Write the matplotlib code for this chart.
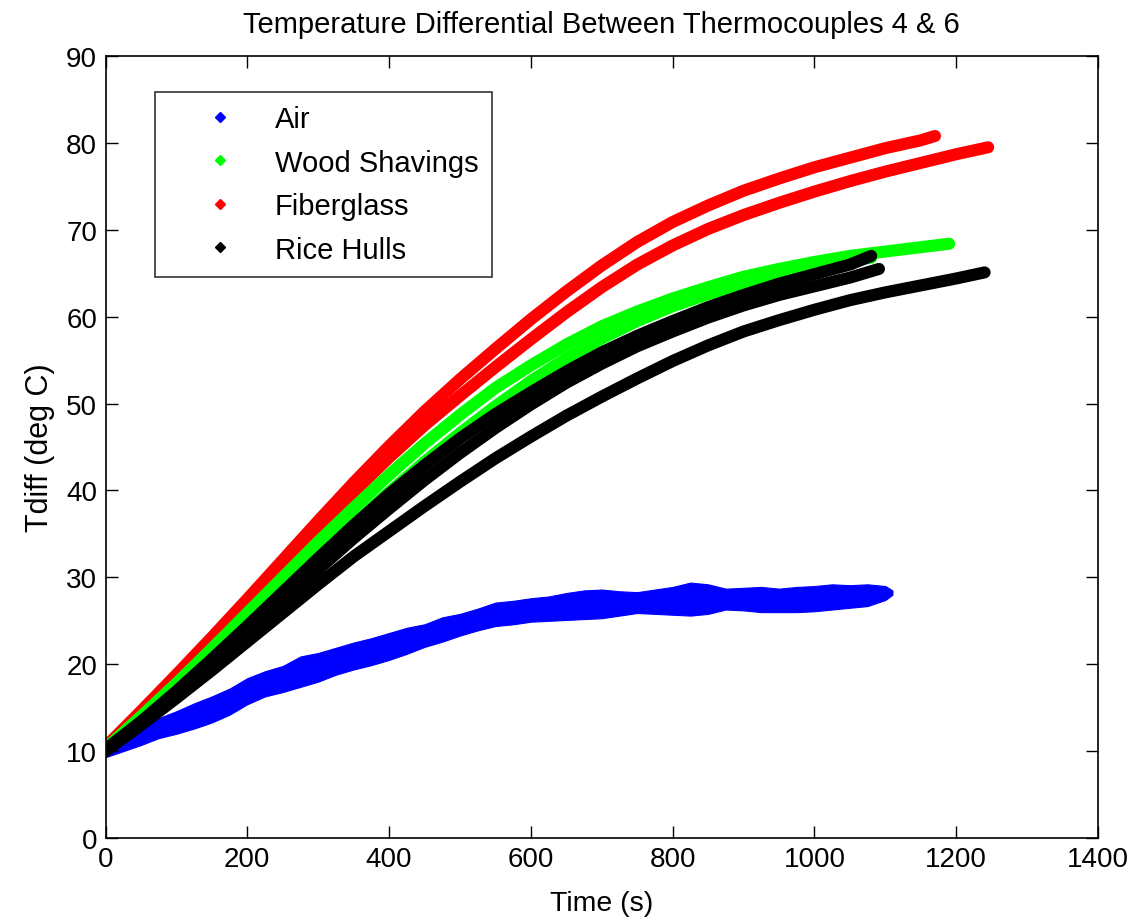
import matplotlib
matplotlib.use("Agg")
import matplotlib.pyplot as plt
from matplotlib.lines import Line2D

plt.rcParams['font.family'] = ['Liberation Sans', 'DejaVu Sans']

# ---------------- data ----------------
# Air: noisy band, upper / lower envelope (deg C)
air_t = [0, 25, 50, 75, 100, 125, 150, 175, 200, 225, 250, 275, 300, 325, 350, 375,
         400, 425, 450, 475, 500, 525, 550, 575, 600, 625, 650, 675, 700, 725, 750,
         775, 800, 825, 850, 875, 900, 925, 950, 975, 1000, 1025, 1050, 1075, 1100, 1110]
air_hi = [10.8, 11.8, 12.9, 13.8, 14.6, 15.5, 16.3, 17.2, 18.4, 19.2, 19.8, 20.9, 21.3, 21.9,
          22.5, 23.0, 23.6, 24.2, 24.6, 25.4, 25.8, 26.4, 27.1, 27.3, 27.6, 27.8, 28.2, 28.5,
          28.6, 28.4, 28.3, 28.6, 28.9, 29.4, 29.2, 28.7, 28.8, 28.9, 28.7, 28.9, 29.0, 29.2,
          29.1, 29.2, 29.0, 28.5]
air_lo = [9.3, 10.0, 10.7, 11.5, 12.0, 12.6, 13.3, 14.2, 15.4, 16.3, 16.8, 17.4, 18.0, 18.8,
          19.4, 19.9, 20.5, 21.2, 22.0, 22.6, 23.3, 23.9, 24.4, 24.6, 24.9, 25.0, 25.1, 25.2,
          25.3, 25.6, 25.9, 25.8, 25.7, 25.6, 25.8, 26.3, 26.2, 26.0, 26.0, 26.0, 26.1, 26.3,
          26.5, 26.7, 27.4, 28.0]

# Fiberglass, two runs
fib_a_t = list(range(0, 1151, 50)) + [1170]
fib_a = [10.5, 14.6, 18.8, 23.1, 27.5, 32.0, 36.5, 40.9, 45.1, 49.1, 52.8, 56.3, 59.7,
         62.9, 65.9, 68.6, 70.9, 72.8, 74.5, 75.9, 77.2, 78.3, 79.4, 80.3, 80.8]
fib_b_t = list(range(0, 1201, 50)) + [1245]
fib_b = [10.3, 14.3, 18.4, 22.6, 26.9, 31.3, 35.6, 39.8, 43.8, 47.5, 50.9, 54.2, 57.4,
         60.5, 63.4, 66.0, 68.2, 70.1, 71.7, 73.1, 74.4, 75.6, 76.7, 77.7, 78.7, 79.5]

# Wood shavings, two runs
wood_a_t = list(range(0, 1151, 50)) + [1190]
wood_a = [10.3, 14.0, 17.8, 21.8, 25.9, 30.0, 34.1, 38.0, 41.8, 45.4, 48.7, 51.8, 54.4,
          56.8, 58.9, 60.6, 62.1, 63.4, 64.6, 65.5, 66.3, 67.0, 67.5, 68.0, 68.4]
wood_b_t = list(range(0, 1051, 50)) + [1080]
wood_b = [10.2, 13.6, 17.1, 20.8, 24.6, 28.5, 32.4, 36.2, 39.8, 43.3, 46.6, 49.7, 52.6,
          55.2, 57.5, 59.5, 61.2, 62.6, 63.8, 64.8, 65.7, 66.4, 66.8]

# Rice hulls, three runs
rice_a_t = list(range(0, 1051, 50)) + [1080]
rice_a = [10.2, 13.4, 16.9, 20.6, 24.4, 28.3, 32.2, 36.0, 39.6, 42.9, 46.0, 48.8, 51.3,
          53.7, 55.9, 57.8, 59.5, 61.1, 62.5, 63.8, 64.9, 66.0, 67.0]
rice_b_t = list(range(0, 1051, 50)) + [1091]
rice_b = [10.0, 13.1, 16.4, 19.9, 23.5, 27.2, 30.9, 34.5, 37.9, 41.2, 44.3, 47.2, 49.9,
          52.4, 54.6, 56.6, 58.3, 59.9, 61.3, 62.5, 63.5, 64.5, 65.5]
rice_c_t = list(range(0, 1201, 50)) + [1240]
rice_c = [10.0, 13.0, 16.1, 19.3, 22.6, 25.9, 29.2, 32.4, 35.3, 38.2, 41.0, 43.7, 46.2,
          48.6, 50.8, 52.9, 54.9, 56.7, 58.3, 59.6, 60.8, 61.9, 62.8, 63.6, 64.4, 65.1]

labels = ["Air", "Wood Shavings", "Fiberglass", "Rice Hulls"]
colors = ["#0000ff", "#00ff00", "#ff0000", "#000000"]

xticks = [0, 200, 400, 600, 800, 1000, 1200, 1400]
yticks = [0, 10, 20, 30, 40, 50, 60, 70, 80, 90]

# ---------------- figure ----------------
fig = plt.figure(figsize=(11.32, 9.2), dpi=100)
ax = fig.add_axes([0.0932, 0.088, 0.8768, 0.850])

LW = 8.7
ax.fill_between(air_t, air_lo, air_hi, color=colors[0], linewidth=0.8, edgecolor=colors[0])
for t, v in [(fib_a_t, fib_a), (fib_b_t, fib_b)]:
    ax.plot(t, v, color=colors[2], lw=LW, solid_capstyle='round', solid_joinstyle='round')
for t, v in [(wood_a_t, wood_a), (wood_b_t, wood_b)]:
    ax.plot(t, v, color=colors[1], lw=LW, solid_capstyle='round', solid_joinstyle='round')
for t, v in [(rice_c_t, rice_c), (rice_a_t, rice_a), (rice_b_t, rice_b)]:
    ax.plot(t, v, color=colors[3], lw=LW, solid_capstyle='round', solid_joinstyle='round')

ax.set_xlim(0, 1400)
ax.set_ylim(0, 90)
ax.set_xticks(xticks)
ax.set_yticks(yticks)
ax.tick_params(direction='in', length=8.5, width=1, top=True, right=True,
               labelsize=20, pad=6)
for s in ax.spines.values():
    s.set_linewidth(1.2)

ax.set_title("Temperature Differential Between Thermocouples 4 & 6", fontsize=21, pad=17)
ax.set_xlabel("Time (s)", fontsize=20.5, labelpad=13)
ax.set_ylabel("Tdiff (deg C)", fontsize=22, labelpad=8)

handles = [Line2D([], [], linestyle='none', marker='D', markersize=5.5,
                  color=c, markeredgecolor=c) for c in colors]
leg = ax.legend(handles, labels, loc='upper left', bbox_to_anchor=(0.0499, 0.954),
                borderaxespad=0, fontsize=21, frameon=True, fancybox=False,
                edgecolor='black', borderpad=0.45, labelspacing=0.53,
                handlelength=3.56, handletextpad=0.1)
leg.get_frame().set_linewidth(1.2)

fig.savefig("out.png", dpi=100)
